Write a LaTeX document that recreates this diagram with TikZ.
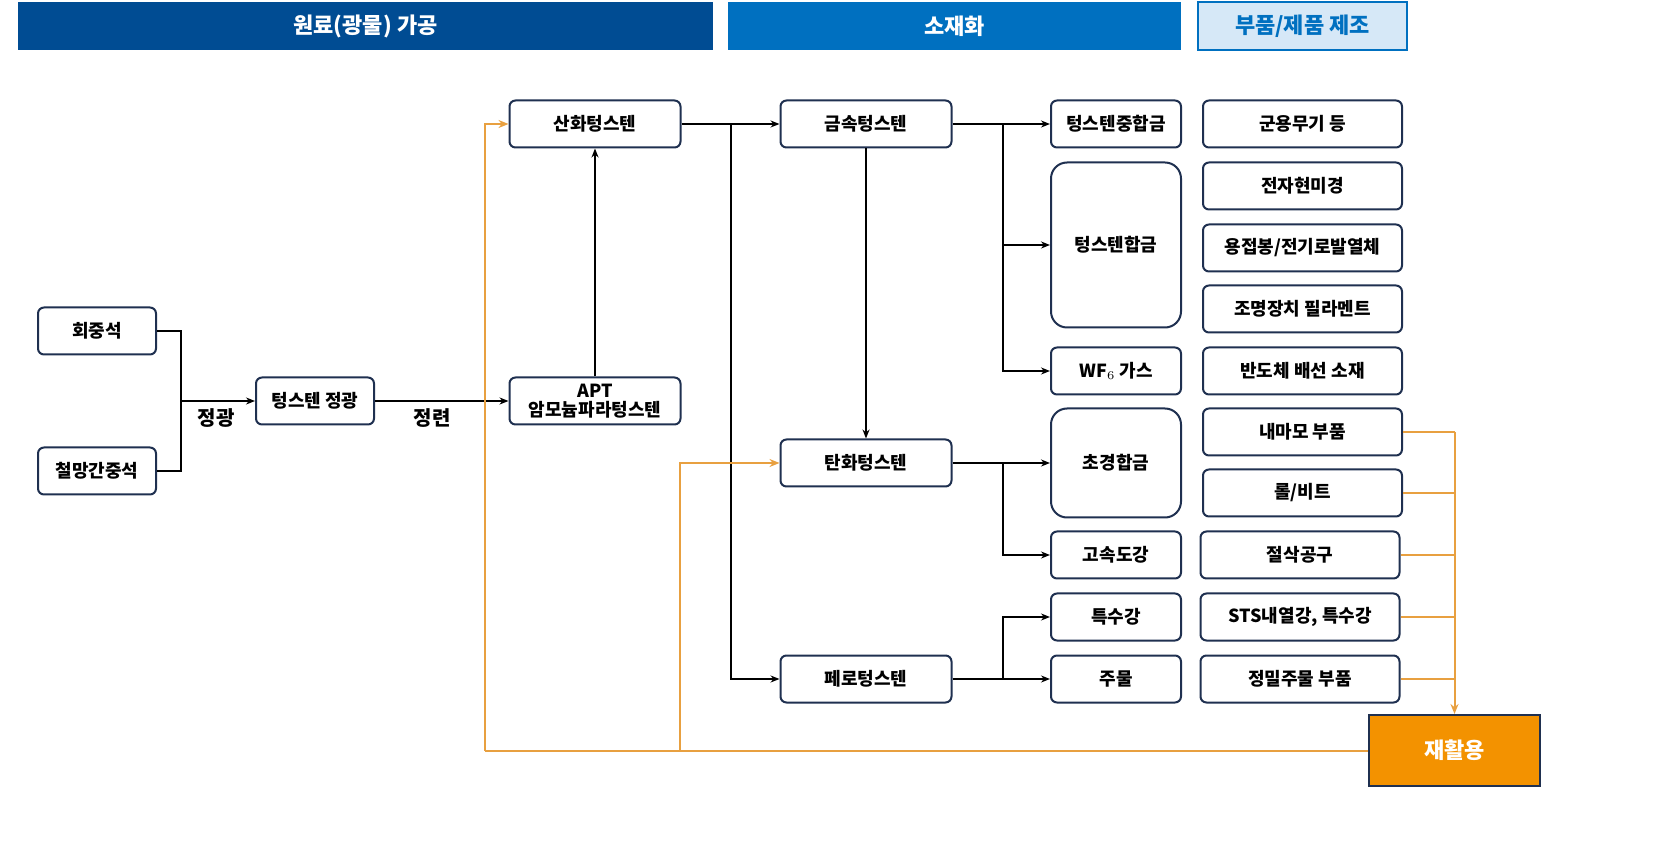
\documentclass[tikz,border=0pt]{standalone}
\usepackage{fontspec}
\setmainfont{Noto Sans CJK KR}
\usetikzlibrary{arrows.meta}
\definecolor{navy}{HTML}{1F3050}
\definecolor{hdA}{HTML}{004C93}
\definecolor{hdB}{HTML}{0070C0}
\definecolor{hdC}{HTML}{D6E8F7}
\definecolor{orng}{HTML}{F39200}
\definecolor{oline}{HTML}{E8A040}
\begin{document}
\begin{tikzpicture}[x=0.5pt,y=-0.5pt,
 box/.style={draw=navy,line width=1pt,rounded corners=3pt,fill=white,font=\fontsize{9}{10}\selectfont\bfseries,text=black,inner sep=0pt,align=center},
 hd/.style={inner sep=0pt,font=\fontsize{11}{12}\selectfont\bfseries},
 ln/.style={line width=0.8pt,black,-{Stealth[length=4.5pt,width=3.5pt]}},
 pl/.style={line width=0.8pt,black},
 ol/.style={line width=1pt,oline},
 oa/.style={line width=1pt,oline,-{Stealth[length=5pt,width=4pt]}}]
\useasboundingbox (0,0) rectangle (1677,844);
% headers
\node[hd,fill=hdA,text=white,minimum width=347.5pt,minimum height=24pt] (h1) at (365.5,26) {원료(광물) 가공};
\node[hd,fill=hdB,text=white,minimum width=226.5pt,minimum height=24pt] (h2) at (954.5,26) {소재화};
\node[hd,fill=hdC,draw=hdB,line width=0.8pt,text=hdB,minimum width=104.5pt,minimum height=24pt] (h3) at (1302.5,26) {부품/제품 제조};
% nodes
\tikzset{s1/.style={box,minimum width=59pt,minimum height=23.5pt},
 s2/.style={box,minimum width=85.5pt,minimum height=23.5pt},
 s3/.style={box,minimum width=65pt,minimum height=23.5pt},
 s4/.style={box,minimum width=99.5pt,minimum height=23.5pt}}
\node[s1] (hj) at (97,331) {회중석};
\node[s1] (cm) at (97,471) {철망간중석};
\node[s1] (jg) at (315,401) {텅스텐 정광};
\node[s2] (sh) at (595,124) {산화텅스텐};
\node[s2,font=\fontsize{9}{9.5}\selectfont\bfseries] (apt) at (595,401) {APT\\암모늄파라텅스텐};
\node[s2] (gs) at (866,124) {금속텅스텐};
\node[s2] (th) at (866,463) {탄화텅스텐};
\node[s2] (pr) at (866,679) {페로텅스텐};
\node[s3] (jh) at (1116,124) {텅스텐중합금};
\node[s3,minimum height=82.5pt,rounded corners=8pt] (th2) at (1116,245) {텅스텐합금};
\node[s3] (wf) at (1116,371) {WF$_6$ 가스};
\node[s3,minimum height=54.5pt,rounded corners=8pt] (cg) at (1116,463) {초경합금};
\node[s3] (gd) at (1116,555) {고속도강};
\node[s3] (ts) at (1116,617) {특수강};
\node[s3] (jm) at (1116,679) {주물};
\node[s4] (r1) at (1302.5,124) {군용무기 등};
\node[s4] (r2) at (1302.5,186) {전자현미경};
\node[s4] (r3) at (1302.5,248) {용접봉/전기로발열체};
\node[s4] (r4) at (1302.5,309) {조명장치 필라멘트};
\node[s4] (r5) at (1302.5,371) {반도체 배선 소재};
\node[s4] (r6) at (1302.5,432) {내마모 부품};
\node[s4] (r7) at (1302.5,493) {롤/비트};
\node[s4] (r8) at (1300,555) {절삭공구};
\node[s4] (r9) at (1300,617) {STS내열강, 특수강};
\node[s4] (r10) at (1300,679) {정밀주물 부품};
\node[draw=navy,line width=1pt,fill=orng,text=white,font=\fontsize{11}{12}\selectfont\bfseries,minimum width=85.5pt,minimum height=35.5pt,inner sep=0pt] (rc) at (1454.5,750.5) {재활용};
% labels
\node[font=\fontsize{10}{11}\selectfont\bfseries] (l1) at (216,418) {정광};
\node[font=\fontsize{10}{11}\selectfont\bfseries] (l2) at (432,418) {정련};
% black connectors
\draw[pl] (hj.east) -| (181,401) |- (cm.east);
\draw[ln] (181,401) -- (jg.west);
\draw[ln] (jg.east) -- (apt.west);
\draw[ln] (apt.north) -- (sh.south);
\draw[ln] (sh.east) -- (gs.west);
\draw[ln] (731,124) |- (pr.west);
\draw[ln] (gs.south) -- (th.north);
\draw[ln] (gs.east) -- (jh.west);
\draw[ln] (1003,124) |- (th2.west);
\draw[ln] (1003,124) |- (wf.west);
\draw[ln] (th.east) -- (cg.west);
\draw[ln] (1003,463) |- (gd.west);
\draw[pl] (pr.east) -- (1003,679);
\draw[ln] (1003,679) |- (ts.west);
\draw[ln] (1003,679) -- (jm.west);
% orange
\foreach \n in {r6,r7,r8,r9,r10} \draw[ol] (\n.east) -- (\n.east -| rc.north);
\draw[oa] (r6.east -| rc.north) -- (rc.north);
\draw[ol] (rc.west) -- (485,750.5);
\draw[oa] (485,750.5) |- (sh.west);
\draw[oa] (680,750.5) |- (th.west);
\end{tikzpicture}
\end{document}
